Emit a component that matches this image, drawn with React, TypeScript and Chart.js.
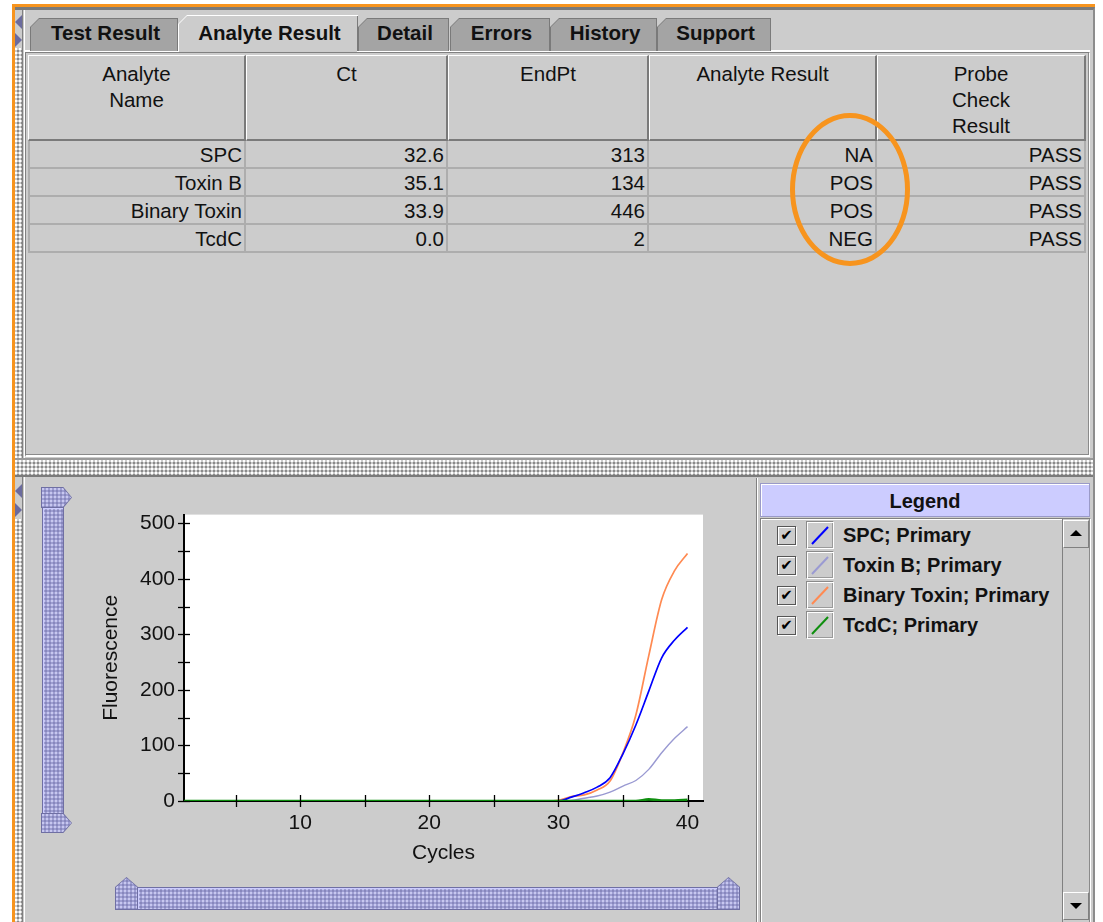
import React, { useEffect, useRef } from 'react';
import { Chart, registerables } from 'chart.js';

Chart.register(...registerables);

// ---------------- data ----------------
const cycles = [
  1, 2, 3, 4, 5, 6, 7, 8, 9, 10,
  11, 12, 13, 14, 15, 16, 17, 18, 19, 20,
  21, 22, 23, 24, 25, 26, 27, 28, 29, 30,
  31, 32, 33, 34, 35, 36, 37, 38, 39, 40,
];
const spcValues = [
  0, 0, 0, 0, 0, 0, 0, 0, 0, 0,
  0, 0, 0, 0, 0, 0, 0, 0, 0, 0,
  0, 0, 0, 0, 0, 0, 0, 0, 0, 0,
  7, 15, 25, 42, 85, 137, 198, 258, 290, 313,
];
const toxinBValues = [
  0, 0, 0, 0, 0, 0, 0, 0, 0, 0,
  0, 0, 0, 0, 0, 0, 0, 0, 0, 0,
  0, 0, 0, 0, 0, 0, 0, 0, 0, 0,
  1, 5, 9, 16, 27, 37, 57, 87, 113, 134,
];
const binaryToxinValues = [
  0, 0, 0, 0, 0, 0, 0, 0, 0, 0,
  0, 0, 0, 0, 0, 0, 0, 0, 0, 0,
  0, 0, 0, 0, 0, 0, 0, 0, 0, 1,
  8, 11, 20, 36, 87, 155, 262, 363, 415, 446,
];
const tcdcValues = [
  0, 0, 0, 0, 0, 0, 0, 0, 0, 0,
  0, 0, 0, 0, 0, 0, 0, 0, 0, 0,
  0, 0, 0, 0, 0, 0, 0, 0, 0, 0,
  0, 0, 0, 0, 0, 0, 3, 1, 1, 2,
];
const seriesNames = ['SPC; Primary', 'Toxin B; Primary', 'Binary Toxin; Primary', 'TcdC; Primary'];
const seriesValues = [spcValues, toxinBValues, binaryToxinValues, tcdcValues];
const xTickValues = [5, 10, 15, 20, 25, 30, 35, 40];
const yTickValues = [0, 50, 100, 150, 200, 250, 300, 350, 400, 450, 500];

const analyteNames = ['SPC', 'Toxin B', 'Binary Toxin', 'TcdC'];
const ctValues = [32.6, 35.1, 33.9, 0.0];
const endPtValues = [313, 134, 446, 2];
const analyteResults = ['NA', 'POS', 'POS', 'NEG'];
const probeCheckResults = ['PASS', 'PASS', 'PASS', 'PASS'];
const tableHeaders = [['Analyte', 'Name'], ['Ct'], ['EndPt'], ['Analyte Result'], ['Probe', 'Check', 'Result']];
const tabLabels = ['Test Result', 'Analyte Result', 'Detail', 'Errors', 'History', 'Support'];

// ---------------- styles ----------------
const SERIES_COLORS = ['#0000ff', '#9a9ad2', '#ff8a52', '#0f8f0f'];
const SERIES_WIDTHS = [1.7, 1.4, 1.7, 2.6];
const SERIES_ORDER = [1, 3, 2, 0];
const FONT = '"Liberation Sans", Arial, Helvetica, sans-serif';
const PANEL = '#cccccc';
const LAV = '#9e9ed2';
const LAV_DARK = '#6f6fa3';
const LAV_LIGHT = '#ccccff';
const ORANGE = '#f7941e';
const TEXT = '#111111';

const TAB_X = [30, 178, 358, 450, 550, 657];
const TAB_W = [148, 180, 91, 100, 107, 114];
const COL_X = [28, 246, 448, 649, 877, 1086];

const bumps: React.CSSProperties = {
  backgroundColor: PANEL,
  backgroundImage:
    'radial-gradient(circle at 1px 1px, #ffffff 0.9px, transparent 1.2px), radial-gradient(circle at 3px 3px, #8a8a8a 0.9px, transparent 1.2px)',
  backgroundSize: '4px 4px',
};
const lavBumps: React.CSSProperties = {
  backgroundColor: LAV,
  backgroundImage:
    'radial-gradient(circle at 1px 1px, #c8c8f0 0.7px, transparent 1px), radial-gradient(circle at 3px 3px, #8686bc 0.7px, transparent 1px)',
  backgroundSize: '4px 4px',
};

const abs = (l: number, t: number, w: number, h: number, extra: React.CSSProperties = {}): React.CSSProperties => ({
  position: 'absolute',
  left: l,
  top: t,
  width: w,
  height: h,
  boxSizing: 'border-box',
  ...extra,
});

// ---------------- chart plugins ----------------
const plotBg = {
  id: 'plotBg',
  beforeDraw(chart: any) {
    const { ctx, chartArea: a } = chart;
    ctx.save();
    ctx.fillStyle = '#ffffff';
    ctx.fillRect(a.left, a.top, a.right - a.left, a.bottom - a.top);
    ctx.restore();
  },
};

const crossTicks = {
  id: 'crossTicks',
  afterDatasetsDraw(chart: any) {
    const { ctx } = chart;
    const xs = chart.scales.x;
    const ys = chart.scales.y;
    ctx.save();
    ctx.strokeStyle = '#000000';
    ctx.lineWidth = 1.3;
    xs.ticks.forEach((t: any) => {
      const px = Math.round(xs.getPixelForValue(t.value)) + 0.5;
      ctx.beginPath();
      ctx.moveTo(px, ys.bottom - 6);
      ctx.lineTo(px, ys.bottom + 6);
      ctx.stroke();
    });
    ys.ticks.forEach((t: any) => {
      const py = Math.round(ys.getPixelForValue(t.value)) + 0.5;
      ctx.beginPath();
      ctx.moveTo(xs.left - 6, py);
      ctx.lineTo(xs.left + 6, py);
      ctx.stroke();
    });
    ctx.restore();
  },
};

function FluorescenceChart() {
  const ref = useRef<HTMLCanvasElement>(null);
  useEffect(() => {
    const canvas = ref.current;
    if (!canvas) return;
    const datasets = seriesNames.map((name, i) => ({
      label: name,
      data: cycles.map((c, j) => ({ x: c, y: seriesValues[i][j] })),
      borderColor: SERIES_COLORS[i],
      backgroundColor: SERIES_COLORS[i],
      borderWidth: SERIES_WIDTHS[i],
      pointRadius: 0,
      cubicInterpolationMode: 'monotone',
      fill: false,
      order: SERIES_ORDER[i],
    }));
    const tickFont = { family: FONT, size: 21 };
    const chart = new Chart(canvas, {
      type: 'line',
      data: { datasets },
      options: {
        animation: false,
        responsive: false,
        devicePixelRatio: 1,
        layout: { padding: { top: 0, right: 27, left: 0, bottom: 0 } },
        plugins: { legend: { display: false }, tooltip: { enabled: false } },
        scales: {
          x: {
            type: 'linear',
            min: 1,
            max: 41.2,
            afterBuildTicks: (s: any) => {
              s.ticks = xTickValues.map((v) => ({ value: v }));
            },
            afterFit: (s: any) => {
              s.height = 74;
            },
            grid: { display: false, drawTicks: false },
            border: { display: true, color: '#000000', width: 2 },
            ticks: {
              autoSkip: false,
              maxRotation: 0,
              padding: 10,
              color: TEXT,
              font: tickFont,
              callback: (v: any) => (Number(v) % 10 === 0 ? String(v) : ''),
            },
            title: {
              display: true,
              text: 'Cycles',
              color: TEXT,
              font: tickFont,
              padding: { top: 0, bottom: 9 },
            },
          },
          y: {
            type: 'linear',
            min: 0,
            max: 516,
            afterBuildTicks: (s: any) => {
              s.ticks = yTickValues.map((v) => ({ value: v }));
            },
            afterFit: (s: any) => {
              s.width = 94;
            },
            grid: { display: false, drawTicks: false },
            border: { display: true, color: '#000000', width: 2 },
            ticks: {
              autoSkip: false,
              padding: 9,
              color: TEXT,
              font: tickFont,
              callback: (v: any) => (Number(v) % 100 === 0 ? String(v) : ''),
            },
            title: {
              display: true,
              text: 'Fluorescence',
              color: TEXT,
              font: tickFont,
              padding: { top: 9, bottom: 0 },
            },
          },
        },
      } as any,
      plugins: [plotBg, crossTicks],
    });
    return () => chart.destroy();
  }, []);
  return (
    <canvas
      ref={ref}
      width={640}
      height={382}
      style={{ position: 'absolute', left: 90, top: 493, width: 640, height: 382 }}
    />
  );
}

// ---------------- UI pieces ----------------
function Tab({ x, w, label, active }: { x: number; w: number; label: string; active: boolean }) {
  const top = active ? 15 : 18;
  const h = (active ? 53 : 51) - top;
  return (
    <div
      style={abs(x, top, w, h, {
        background: active ? '#ffffff' : '#7a7a7a',
        clipPath: 'polygon(9px 0, 100% 0, 100% 100%, 0 100%, 0 9px)',
      })}
    >
      <div
        style={{
          position: 'absolute',
          left: 1,
          top: 1,
          right: 1,
          bottom: 0,
          background: active ? PANEL : '#a4a4a4',
          clipPath: 'polygon(8px 0, 100% 0, 100% 100%, 0 100%, 0 8px)',
        }}
      />
      {active && <div style={{ position: 'absolute', right: 0, top: 1, width: 1, bottom: 2, background: '#7a7a7a' }} />}
      <div
        style={{
          position: 'absolute',
          left: 3,
          right: 0,
          top: 34 - top - 13,
          height: 34,
          lineHeight: '34px',
          textAlign: 'center',
          font: `bold 20.5px ${FONT}`,
          color: TEXT,
          whiteSpace: 'nowrap',
        }}
      >
        {label}
      </div>
    </div>
  );
}

function Pentagon({ l, t, w, h, poly }: { l: number; t: number; w: number; h: number; poly: string }) {
  return (
    <div style={abs(l, t, w, h, { background: LAV_DARK, clipPath: poly })}>
      <div style={{ position: 'absolute', left: 1, top: 1, right: 1, bottom: 1, clipPath: poly, ...lavBumps }} />
    </div>
  );
}

function Triangle({ l, t, dir }: { l: number; t: number; dir: 'left' | 'right' }) {
  const s: React.CSSProperties = {
    position: 'absolute',
    left: l,
    top: t,
    width: 0,
    height: 0,
    borderTop: '7px solid transparent',
    borderBottom: '7px solid transparent',
  };
  if (dir === 'left') s.borderRight = '7px solid #6b6b9e';
  else s.borderLeft = '7px solid #6b6b9e';
  return <div style={s} />;
}

export default function App() {
  const rows = analyteNames.map((n, i) => [
    n,
    ctValues[i].toFixed(1),
    String(endPtValues[i]),
    analyteResults[i],
    probeCheckResults[i],
  ]);
  return (
    <div
      style={{
        position: 'absolute',
        left: 0,
        top: 0,
        width: 1103,
        height: 922,
        overflow: 'hidden',
        background: '#ffffff',
        fontFamily: FONT,
        color: TEXT,
      }}
    >
      {/* outer frame */}
      <div style={abs(14, 7, 1081, 915, { background: PANEL, borderTop: '3px solid #7a7a7a', borderRight: '2px solid #8c8c8c' })} />
      <div style={abs(12, 4, 1083, 3, { background: ORANGE })} />
      <div style={abs(12, 4, 3, 918, { background: ORANGE })} />

      {/* left splitter strip */}
      <div style={abs(15, 48, 7, 412, bumps)} />
      <div style={abs(15, 519, 7, 403, bumps)} />
      <Triangle l={15} t={15} dir="left" />
      <Triangle l={15} t={33} dir="right" />
      <Triangle l={15} t={484} dir="left" />
      <Triangle l={15} t={503} dir="right" />
      <div style={abs(22, 10, 3, 450, { borderLeft: '1px solid #808080', borderRight: '1px solid #ffffff' })} />
      <div style={abs(22, 477, 3, 445, { borderLeft: '1px solid #808080', borderRight: '1px solid #ffffff' })} />

      {/* tabs */}
      <div style={abs(25, 50, 1065, 2, { background: '#ffffff' })} />
      {tabLabels.map((lab, i) => (
        <Tab key={lab} x={TAB_X[i]} w={TAB_W[i]} label={lab} active={i === 1} />
      ))}

      {/* table viewport */}
      <div
        style={abs(25, 52, 1065, 405, {
          background: PANEL,
          borderTop: '1px solid #808080',
          borderLeft: '1px solid #808080',
          borderBottom: '2px solid #ffffff',
          borderRight: '1px solid #ffffff',
          boxShadow: 'inset -1px -1px 0 #8a8a8a',
        })}
      />
      {/* header */}
      {tableHeaders.map((lines, c) => (
        <div
          key={'h' + c}
          style={abs(COL_X[c], 55, COL_X[c + 1] - COL_X[c], 86, {
            background: PANEL,
            borderTop: '1px solid #ffffff',
            borderLeft: '1px solid #ffffff',
            borderRight: '2px solid #7a7a7a',
            borderBottom: '2px solid #7a7a7a',
            paddingTop: 5,
            textAlign: 'center',
            font: `20.5px ${FONT}`,
            lineHeight: '26px',
          })}
        >
          {lines.map((ln) => (
            <div key={ln}>{ln}</div>
          ))}
        </div>
      ))}
      {/* body rows */}
      {rows.map((cells, r) =>
        cells.map((txt, c) => (
          <div
            key={'c' + r + '-' + c}
            style={abs(COL_X[c], 141 + r * 28, COL_X[c + 1] - COL_X[c], 28, {
              borderRight: '2px solid #adadad',
              borderBottom: '2px solid #adadad',
              borderLeft: c === 0 ? '2px solid #adadad' : undefined,
              textAlign: 'right',
              paddingRight: 2,
              font: `20.5px ${FONT}`,
              lineHeight: '27px',
              whiteSpace: 'nowrap',
            })}
          >
            {txt}
          </div>
        ))
      )}
      {/* highlight ellipse */}
      <div style={abs(790, 113, 120, 153, { border: `5px solid ${ORANGE}`, borderRadius: '50%' })} />

      {/* horizontal splitter */}
      <div style={abs(15, 458, 1078, 19, { ...bumps, borderTop: '2px solid #9a9a9a', borderBottom: '2px solid #7a7a7a' })} />

      {/* lower panel: sliders */}
      <Pentagon l={41} t={487} w={31} h={21} poly="polygon(0 0, 72% 0, 100% 50%, 72% 100%, 0 100%)" />
      <div style={abs(42, 507, 22, 307, { ...lavBumps, border: `1px solid ${LAV_DARK}`, boxShadow: `inset 1px 1px 0 ${LAV_LIGHT}` })} />
      <Pentagon l={41} t={813} w={31} h={20} poly="polygon(0 0, 72% 0, 100% 50%, 72% 100%, 0 100%)" />

      <Pentagon l={115} t={877} w={23} h={33} poly="polygon(50% 0, 100% 30%, 100% 100%, 0 100%, 0 30%)" />
      <div style={abs(137, 887, 581, 23, { ...lavBumps, border: `1px solid ${LAV_DARK}`, boxShadow: `inset 1px 1px 0 ${LAV_LIGHT}` })} />
      <Pentagon l={717} t={877} w={23} h={33} poly="polygon(50% 0, 100% 30%, 100% 100%, 0 100%, 0 30%)" />

      <FluorescenceChart />

      {/* legend panel */}
      <div style={abs(756, 478, 338, 444, { borderLeft: '1px solid #808080', boxShadow: 'inset 1px 0 0 #ffffff' })} />
      <div
        style={abs(760, 483, 330, 34, {
          background: LAV_LIGHT,
          border: '1px solid #9a9ac8',
          boxShadow: 'inset 1px 1px 0 #ffffff',
          textAlign: 'center',
          font: `bold 20px ${FONT}`,
          lineHeight: '34px',
        })}
      >
        Legend
      </div>
      <div
        style={abs(760, 518, 331, 404, {
          borderTop: '1px solid #808080',
          borderLeft: '1px solid #808080',
          borderRight: '1px solid #ffffff',
          boxShadow: 'inset 1px 1px 0 #ffffff',
        })}
      />
      {seriesNames.map((name, i) => (
        <React.Fragment key={name}>
          <div
            style={abs(777, 526 + i * 30, 19, 19, {
              background: PANEL,
              border: '1px solid #555555',
              boxShadow: '1px 1px 0 #ffffff, inset 1px 1px 0 #ffffff',
              textAlign: 'center',
              font: `bold 15px "DejaVu Sans", sans-serif`,
              lineHeight: '17px',
              color: '#000',
            })}
          >
            ✔
          </div>
          <div
            style={abs(806, 521 + i * 30, 28, 28, {
              borderTop: '1px solid #8a8a8a',
              borderLeft: '1px solid #8a8a8a',
              borderBottom: '1px solid #ffffff',
              borderRight: '1px solid #ffffff',
              boxShadow: 'inset 1px 1px 0 #ffffff, inset -1px -1px 0 #9a9a9a',
            })}
          >
            <svg width={26} height={26} style={{ position: 'absolute', left: 0, top: 0 }}>
              <line x1={5} y1={22} x2={21} y2={5} stroke={SERIES_COLORS[i]} strokeWidth={2} />
            </svg>
          </div>
          <div
            style={abs(843, 521 + i * 30, 220, 28, {
              font: `bold 20px ${FONT}`,
              lineHeight: '28px',
              whiteSpace: 'nowrap',
            })}
          >
            {name}
          </div>
        </React.Fragment>
      ))}
      {/* scrollbar */}
      <div style={abs(1062, 519, 28, 403, { background: PANEL, borderLeft: '1px solid #808080', borderRight: '1px solid #8a8a8a' })} />
      <div
        style={abs(1063, 520, 26, 28, {
          background: PANEL,
          borderTop: '1px solid #ffffff',
          borderLeft: '1px solid #ffffff',
          borderBottom: '1px solid #808080',
          borderRight: '1px solid #808080',
        })}
      >
        <div
          style={{
            position: 'absolute',
            left: 6,
            top: 9,
            width: 0,
            height: 0,
            borderLeft: '6px solid transparent',
            borderRight: '6px solid transparent',
            borderBottom: '6px solid #000',
          }}
        />
      </div>
      <div
        style={abs(1063, 892, 26, 28, {
          background: PANEL,
          borderTop: '1px solid #ffffff',
          borderLeft: '1px solid #ffffff',
          borderBottom: '1px solid #808080',
          borderRight: '1px solid #808080',
        })}
      >
        <div
          style={{
            position: 'absolute',
            left: 6,
            top: 10,
            width: 0,
            height: 0,
            borderLeft: '6px solid transparent',
            borderRight: '6px solid transparent',
            borderTop: '6px solid #000',
          }}
        />
      </div>
    </div>
  );
}
